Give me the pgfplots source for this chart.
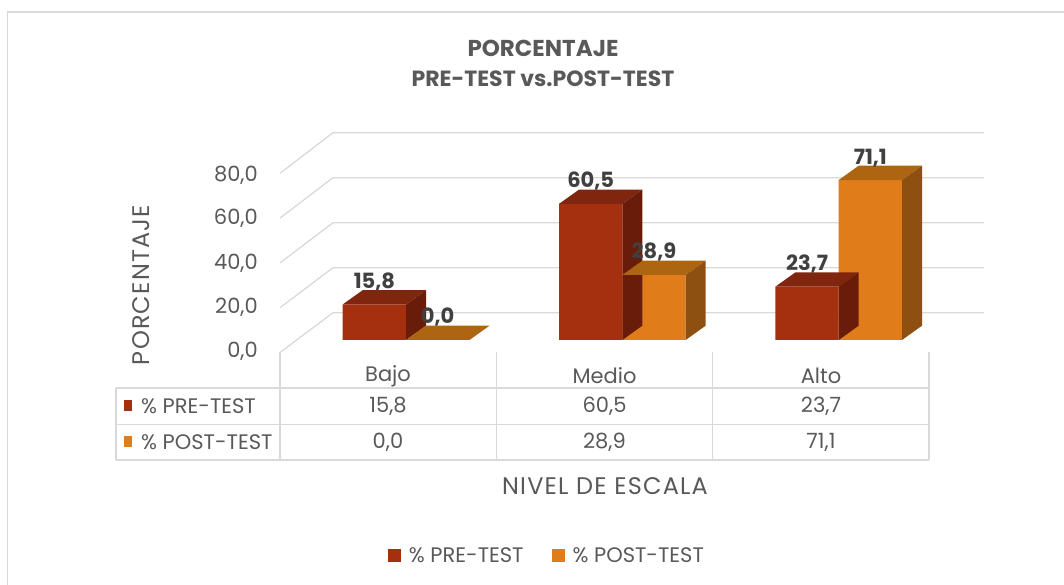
\documentclass[border=0pt]{standalone}
\usepackage{pgfplots}
\pgfplotsset{compat=1.18}
\usepackage{pgfplotstable}
\usepackage{fontspec}
\setmainfont{Poppins}
\definecolor{txt}{HTML}{595959}
\definecolor{lbl}{HTML}{404040}
\definecolor{gridc}{HTML}{D9D9D9}
\definecolor{preF}{HTML}{A5300F}
\definecolor{preT}{HTML}{80260E}
\definecolor{preS}{HTML}{6A1C0A}
\definecolor{postF}{HTML}{E07D1A}
\definecolor{postT}{HTML}{AD6512}
\definecolor{postS}{HTML}{8E5011}

\pgfdeclareplotmark{cubepre}{%
 \pgfmathsetmacro\hh{\val*2.25}%
 \pgfmathsetmacro\hb{14.3-\hh}%
 \pgfsetfillcolor{preT}%
 \pgfpathmoveto{\pgfpoint{-31.65pt}{0pt}}\pgfpathlineto{\pgfpoint{31.65pt}{0pt}}%
 \pgfpathlineto{\pgfpoint{51.65pt}{14.3pt}}\pgfpathlineto{\pgfpoint{-11.65pt}{14.3pt}}%
 \pgfpathclose\pgfusepath{fill}%
 \pgfsetfillcolor{preS}%
 \pgfpathmoveto{\pgfpoint{31.65pt}{0pt}}\pgfpathlineto{\pgfpoint{51.65pt}{14.3pt}}%
 \pgfpathlineto{\pgfpoint{51.65pt}{\hb pt}}\pgfpathlineto{\pgfpoint{31.65pt}{-\hh pt}}%
 \pgfpathclose\pgfusepath{fill}%
}
\pgfdeclareplotmark{cubepost}{%
 \pgfmathsetmacro\hh{\val*2.25}%
 \pgfmathsetmacro\hb{14.3-\hh}%
 \pgfsetfillcolor{postT}%
 \pgfpathmoveto{\pgfpoint{-31.65pt}{0pt}}\pgfpathlineto{\pgfpoint{31.65pt}{0pt}}%
 \pgfpathlineto{\pgfpoint{51.65pt}{14.3pt}}\pgfpathlineto{\pgfpoint{-11.65pt}{14.3pt}}%
 \pgfpathclose\pgfusepath{fill}%
 \pgfsetfillcolor{postS}%
 \pgfpathmoveto{\pgfpoint{31.65pt}{0pt}}\pgfpathlineto{\pgfpoint{51.65pt}{14.3pt}}%
 \pgfpathlineto{\pgfpoint{51.65pt}{\hb pt}}\pgfpathlineto{\pgfpoint{31.65pt}{-\hh pt}}%
 \pgfpathclose\pgfusepath{fill}%
}

\pgfplotstableread{
idx pre post
0 15.8 0.0
1 60.5 28.9
2 23.7 71.1
}\datatable

\newcommand{\tf}{\fontsize{21}{24}\selectfont\color{txt}}
\newcommand{\wf}{\fontsize{24}{28}\selectfont\addfontfeatures{LetterSpace=5}\color{txt}}

\begin{document}
\begin{tikzpicture}[x=1pt,y=1pt]
\useasboundingbox (0,0) rectangle (1064,585);
\begin{scope}[yshift=585pt, y=-1pt]
  % outer frame
  \draw[gridc, line width=1.5pt] (7.5,585) -- (7.5,12) -- (1064,12);
  % back wall grid and side wall diagonals
  \foreach \k in {0,...,4}{
    \draw[gridc, line width=1.3pt] (280,{352.5-44.8*\k}) -- (333,{312.7-45*\k}) -- (984,{312.7-45*\k});
  }
\end{scope}

\begin{axis}[
  at={(0,0)}, anchor=south west,
  scale only axis, width=1064pt, height=585pt,
  xmin=0, xmax=1064, ymin=-108.8889, ymax=151.1111,
  axis lines=none, xtick=\empty, ytick=\empty,
  clip=false,
  /pgf/number format/assume math mode=true,
  legend style={at={(axis description cs:0.514,0.0496)}, anchor=center,
    draw=none, fill=none, legend columns=2,
    font=\tf, inner sep=0pt,
    /tikz/every odd column/.append style={column sep=6pt},
    /tikz/every even column/.append style={column sep=26pt}},
  legend image code/.code={\fill[#1, draw=none] (0pt,-6.5pt) rectangle (13pt,6.5pt);},
  every node near coord/.append style={font=\fontsize{21}{24}\bfseries\selectfont, color=lbl},
]
\addplot[forget plot, only marks, mark=cubepre, visualization depends on={\thisrow{pre}\as\val}]
  table[x expr={374.35+216.35*\thisrow{idx}}, y=pre]{\datatable};
\addplot[ybar, bar width=63.3, bar shift=0pt, fill=preF, draw=none,
  nodes near coords={\pgfmathprintnumber[fixed,fixed zerofill,precision=1,use comma]{\pgfplotspointmeta}},
  nodes near coords align={center},
  every node near coord/.append style={anchor=base, yshift=16pt}]
  table[x expr={374.35+216.35*\thisrow{idx}}, y=pre]{\datatable};
\addlegendentry{\% PRE-TEST}
\addplot[forget plot, only marks, mark=cubepost, visualization depends on={\thisrow{post}\as\val}]
  table[x expr={437.65+216.35*\thisrow{idx}}, y=post]{\datatable};
\addplot[ybar, bar width=63.3, bar shift=0pt, fill=postF, draw=none,
  nodes near coords={\pgfmathprintnumber[fixed,fixed zerofill,precision=1,use comma]{\pgfplotspointmeta}},
  nodes near coords align={center},
  every node near coord/.append style={anchor=base, yshift=16pt}]
  table[x expr={437.65+216.35*\thisrow{idx}}, y=post]{\datatable};
\addlegendentry{\% POST-TEST}
\end{axis}

\begin{scope}[yshift=585pt, y=-1pt]
  % title
  \node[font=\fontsize{23}{26}\bfseries\selectfont, text=txt] at (543,48.5) {PORCENTAJE};
  \node[font=\fontsize{22}{26}\bfseries\selectfont, text=txt] at (543,78.5) {PRE-TEST vs.POST-TEST};
  % y tick labels
  \foreach \v/\yy in {{0,0}/351, {20,0}/307, {40,0}/263, {60,0}/218, {80,0}/175}{
    \node[font=\tf, anchor=east, inner sep=0pt] at (258,\yy) {\v};
  }
  % y axis title
  \node[font=\wf, rotate=90] at (141,285) {PORCENTAJE};
  % data table lines
  \draw[gridc, line width=1.5pt] (116,388) -- (929,388);
  \draw[gridc, line width=1.5pt] (116,424.5) -- (929,424.5);
  \draw[gridc, line width=1.5pt] (116,460) -- (929,460);
  \draw[gridc, line width=1.5pt] (116,388) -- (116,460);
  \foreach \xx in {280,496.3,712.7,929}{
    \draw[gridc, line width=1.5pt] (\xx,352.5) -- (\xx,460);
  }
  % headers
  \node[font=\tf] at (388,376) {Bajo};
  \node[font=\tf] at (604.5,376) {Medio};
  \node[font=\tf] at (821,376) {Alto};
  % rows
  \fill[preF] (123.5,400.5) rectangle (132,411.5);
  \node[font=\tf, anchor=west, inner sep=0pt] at (141,406) {\% PRE-TEST};
  \fill[postF] (123.5,436.5) rectangle (132,447.5);
  \node[font=\tf, anchor=west, inner sep=0pt] at (141,442) {\% POST-TEST};
  \node[font=\tf] at (388,406) {15,8};
  \node[font=\tf] at (604.5,406) {60,5};
  \node[font=\tf] at (821,406) {23,7};
  \node[font=\tf] at (388,442) {0,0};
  \node[font=\tf] at (604.5,442) {28,9};
  \node[font=\tf] at (821,442) {71,1};
  % x axis title
  \node[font=\wf] at (605,486) {NIVEL DE ESCALA};
\end{scope}
\end{tikzpicture}
\end{document}
